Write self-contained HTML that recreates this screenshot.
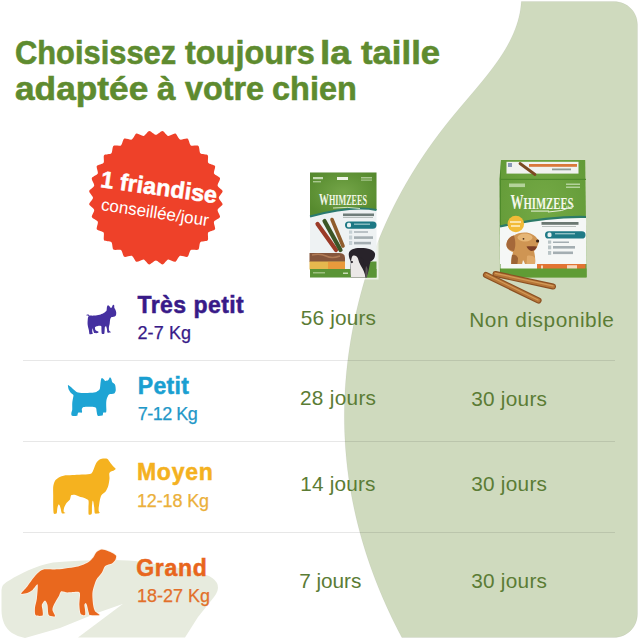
<!DOCTYPE html>
<html><head><meta charset="utf-8">
<style>
*{margin:0;padding:0;box-sizing:border-box}
html,body{width:640px;height:640px;overflow:hidden;background:#fff}
body{position:relative;font-family:"Liberation Sans",sans-serif}
.abs{position:absolute}
.t{position:absolute;white-space:nowrap;line-height:1}
.b{font-weight:700;-webkit-text-stroke:0.6px currentColor}
.tt{font-size:34.5px;font-weight:700;-webkit-text-stroke:0.6px currentColor;color:#5e8b2f;transform-origin:0 29px}
svg{position:absolute;overflow:visible}
</style></head><body>
<svg class="abs" style="left:0;top:0" width="640" height="640" viewBox="0 0 640 640">
 <path d="M521.30,1.50 C521.16,2.83 520.87,6.83 520.46,9.50 C520.05,12.17 519.51,14.83 518.85,17.50 C518.19,20.17 517.40,22.83 516.49,25.50 C515.59,28.17 514.56,30.83 513.42,33.50 C512.28,36.17 511.01,38.83 509.64,41.50 C508.28,44.17 506.79,46.83 505.20,49.50 C503.62,52.17 501.91,54.83 500.12,57.50 C498.34,60.17 496.45,62.83 494.50,65.50 C492.55,68.17 490.51,70.83 488.43,73.50 C486.35,76.17 484.20,78.83 482.02,81.50 C479.85,84.17 477.62,86.83 475.38,89.50 C473.15,92.17 470.87,94.83 468.61,97.50 C466.35,100.17 464.07,102.83 461.82,105.50 C459.56,108.17 457.31,110.83 455.10,113.50 C452.89,116.17 450.70,118.83 448.56,121.50 C446.43,124.17 444.33,126.83 442.28,129.50 C440.22,132.17 438.21,134.83 436.24,137.50 C434.26,140.17 432.33,142.83 430.44,145.50 C428.55,148.17 426.69,150.83 424.88,153.50 C423.07,156.17 421.29,158.83 419.55,161.50 C417.82,164.17 416.12,166.83 414.46,169.50 C412.79,172.17 411.17,174.83 409.58,177.50 C407.99,180.17 406.44,182.83 404.92,185.50 C403.41,188.17 401.93,190.83 400.48,193.50 C399.03,196.17 397.62,198.83 396.24,201.50 C394.87,204.17 393.52,206.83 392.21,209.50 C390.90,212.17 389.62,214.83 388.37,217.50 C387.13,220.17 385.91,222.83 384.73,225.50 C383.55,228.17 382.40,230.83 381.28,233.50 C380.15,236.17 379.06,238.83 378.00,241.50 C376.94,244.17 375.91,246.83 374.91,249.50 C373.90,252.17 372.93,254.83 371.98,257.50 C371.04,260.17 370.12,262.83 369.23,265.50 C368.34,268.17 367.47,270.83 366.64,273.50 C365.80,276.17 364.99,278.83 364.20,281.50 C363.41,284.17 362.65,286.83 361.92,289.50 C361.18,292.17 360.47,294.83 359.78,297.50 C359.09,300.17 358.43,302.83 357.79,305.50 C357.15,308.17 356.53,310.83 355.93,313.50 C355.34,316.17 354.76,318.83 354.21,321.50 C353.66,324.17 353.13,326.83 352.63,329.50 C352.12,332.17 351.64,334.83 351.18,337.50 C350.72,340.17 350.28,342.83 349.87,345.50 C349.45,348.17 349.06,350.83 348.69,353.50 C348.32,356.17 347.98,358.83 347.66,361.50 C347.33,364.17 347.04,366.83 346.76,369.50 C346.48,372.17 346.23,374.83 346.00,377.50 C345.77,380.17 345.57,382.83 345.38,385.50 C345.20,388.17 345.04,390.83 344.91,393.50 C344.77,396.17 344.66,398.83 344.57,401.50 C344.49,404.17 344.42,406.83 344.38,409.50 C344.34,412.17 344.33,414.83 344.33,417.50 C344.34,420.17 344.37,422.83 344.43,425.50 C344.49,428.17 344.57,430.83 344.67,433.50 C344.77,436.17 344.90,438.83 345.06,441.50 C345.21,444.17 345.39,446.83 345.59,449.50 C345.79,452.17 346.01,454.83 346.27,457.50 C346.52,460.17 346.79,462.83 347.09,465.50 C347.39,468.17 347.71,470.83 348.06,473.50 C348.41,476.17 348.79,478.83 349.19,481.50 C349.59,484.17 350.01,486.83 350.46,489.50 C350.91,492.17 351.38,494.83 351.88,497.50 C352.38,500.17 352.90,502.83 353.45,505.50 C354.00,508.17 354.58,510.83 355.18,513.50 C355.78,516.17 356.40,518.83 357.06,521.50 C357.71,524.17 358.38,526.83 359.09,529.50 C359.79,532.17 360.52,534.83 361.27,537.50 C362.02,540.17 362.80,542.83 363.61,545.50 C364.41,548.17 365.24,550.83 366.10,553.50 C366.96,556.17 367.84,558.83 368.75,561.50 C369.66,564.17 370.59,566.83 371.55,569.50 C372.52,572.17 373.50,574.83 374.52,577.50 C375.53,580.17 376.57,582.83 377.64,585.50 C378.70,588.17 379.80,590.83 380.92,593.50 C382.04,596.17 383.18,598.83 384.36,601.50 C385.53,604.17 386.73,606.83 387.95,609.50 C389.18,612.17 390.43,614.83 391.71,617.50 C392.99,620.17 394.30,622.83 395.63,625.50 C396.97,628.17 398.69,631.50 399.72,633.50 C400.75,635.50 401.47,636.83 401.82,637.50 L614,637.5 C627,637.5 637.5,627 637.5,614 L637.5,24.5 C637.5,11.5 627,1.5 614,1.5 Z" fill="#cfdabe" stroke="rgba(0,0,0,0.04)" stroke-width="1"/>
 <path d="M1.5,590 L1.5,610 C1.5,620 5,628 12,633 Q18,637 25,638 L60,628 L97,613 L122.7,604 L78,637.5 L185,637.5 L198,617 L214,597 Q224,584 209,576 C190,568 165,566 135,561 C110,559 80,560 53,562.6 C35,566 20,574 10,580 Q1.5,584 1.5,590 Z" fill="#e7ebde"/>
 <rect x="23" y="360" width="592" height="1" fill="rgba(0,0,0,0.095)"/>
 <rect x="23" y="441" width="592" height="1" fill="rgba(0,0,0,0.095)"/>
 <rect x="23" y="532" width="592" height="1" fill="rgba(0,0,0,0.095)"/>
</svg>


<div class="t tt" style="left:14.71px;top:34.6px;transform:scaleX(0.8939) scaleY(0.96)">Choisissez</div>
<div class="t tt" style="left:185.00px;top:34.6px;transform:scaleX(0.9398) scaleY(0.96)">toujours</div>
<div class="t tt" style="left:320.36px;top:34.6px;transform:scaleX(1.0714) scaleY(0.96)">la</div>
<div class="t tt" style="left:361.25px;top:34.6px;transform:scaleX(1.0058) scaleY(0.96)">taille</div>
<div class="t tt" style="left:14.58px;top:70.9px;transform:scaleX(1.0225) scaleY(0.96)">adaptée</div>
<div class="t tt" style="left:157.00px;top:70.9px;transform:scaleX(0.9625) scaleY(0.96)">à</div>
<div class="t tt" style="left:185.00px;top:70.9px;transform:scaleX(0.9375) scaleY(0.96)">votre</div>
<div class="t tt" style="left:272.06px;top:70.9px;transform:scaleX(0.9409) scaleY(0.96)">chien</div>

<!-- badge -->
<svg style="left:0;top:0" width="640" height="640" viewBox="0 0 640 640">
 <path d="M162.5,131.0 C164.1,131.2 166.5,135.7 168.2,136.0 C169.8,136.3 173.8,133.1 175.3,133.6 C176.9,134.1 178.4,138.9 180.0,139.6 C181.5,140.2 186.1,137.9 187.5,138.6 C188.9,139.4 189.4,144.5 190.8,145.4 C192.3,146.3 197.2,144.9 198.4,145.9 C199.6,146.9 199.2,152.0 200.4,153.2 C201.6,154.4 206.7,154.0 207.7,155.2 C208.7,156.4 207.3,161.3 208.2,162.8 C209.1,164.2 214.2,164.7 215.0,166.1 C215.7,167.5 213.4,172.1 214.0,173.6 C214.7,175.2 219.5,176.7 220.0,178.3 C220.5,179.8 217.3,183.8 217.6,185.4 C217.9,187.1 222.4,189.5 222.6,191.1 C222.7,192.7 218.8,196.0 218.8,197.7 C218.8,199.4 222.7,202.7 222.6,204.3 C222.4,205.9 217.9,208.3 217.6,210.0 C217.3,211.6 220.5,215.6 220.0,217.1 C219.5,218.7 214.7,220.2 214.0,221.8 C213.4,223.3 215.7,227.9 215.0,229.3 C214.2,230.7 209.1,231.2 208.2,232.6 C207.3,234.1 208.7,239.0 207.7,240.2 C206.7,241.4 201.6,241.0 200.4,242.2 C199.2,243.4 199.6,248.5 198.4,249.5 C197.2,250.5 192.3,249.1 190.8,250.0 C189.4,250.9 188.9,256.0 187.5,256.8 C186.1,257.5 181.5,255.2 180.0,255.8 C178.4,256.5 176.9,261.3 175.3,261.8 C173.8,262.3 169.8,259.1 168.2,259.4 C166.5,259.7 164.1,264.2 162.5,264.4 C160.9,264.5 157.6,260.6 155.9,260.6 C154.2,260.6 150.9,264.5 149.3,264.4 C147.7,264.2 145.3,259.7 143.6,259.4 C142.0,259.1 138.0,262.3 136.5,261.8 C134.9,261.3 133.4,256.5 131.8,255.8 C130.3,255.2 125.7,257.5 124.3,256.8 C122.9,256.0 122.4,250.9 121.0,250.0 C119.5,249.1 114.6,250.5 113.4,249.5 C112.2,248.5 112.6,243.4 111.4,242.2 C110.2,241.0 105.1,241.4 104.1,240.2 C103.1,239.0 104.5,234.1 103.6,232.6 C102.7,231.2 97.6,230.7 96.8,229.3 C96.1,227.9 98.4,223.3 97.8,221.8 C97.1,220.2 92.3,218.7 91.8,217.1 C91.3,215.6 94.5,211.6 94.2,210.0 C93.9,208.3 89.4,205.9 89.2,204.3 C89.1,202.7 93.0,199.4 93.0,197.7 C93.0,196.0 89.1,192.7 89.2,191.1 C89.4,189.5 93.9,187.1 94.2,185.4 C94.5,183.8 91.3,179.8 91.8,178.3 C92.3,176.7 97.1,175.2 97.8,173.6 C98.4,172.1 96.1,167.5 96.8,166.1 C97.6,164.7 102.7,164.2 103.6,162.8 C104.5,161.3 103.1,156.4 104.1,155.2 C105.1,154.0 110.2,154.4 111.4,153.2 C112.6,152.0 112.2,146.9 113.4,145.9 C114.6,144.9 119.5,146.3 121.0,145.4 C122.4,144.5 122.9,139.4 124.3,138.6 C125.7,137.9 130.3,140.2 131.8,139.6 C133.4,138.9 134.9,134.1 136.5,133.6 C138.0,133.1 142.0,136.3 143.6,136.0 C145.3,135.7 147.7,131.2 149.3,131.0 C150.9,130.9 154.2,134.8 155.9,134.8 C157.6,134.8 160.9,130.9 162.5,131.0Z" fill="#ee4129"/>
</svg>
<div class="t" style="left:98.5px;top:168px;font-size:23.5px;font-weight:700;-webkit-text-stroke:0.5px currentColor;color:#fff;transform:rotate(8deg);transform-origin:0 100%">1 friandise</div>
<div class="t" style="left:100px;top:195.5px;font-size:17px;color:#fff;transform:rotate(8.5deg);transform-origin:0 100%">conseillée/jour</div>

<!-- row labels -->
<div class="t" style="left:137.50px;top:293.53px;font-size:23px;font-weight:700;-webkit-text-stroke:0.5px currentColor;color:#381a88;letter-spacing:0.444px">Très petit</div>
<div class="t" style="left:137.40px;top:323.66px;font-size:18px;-webkit-text-stroke:0.25px currentColor;color:#381a88;letter-spacing:0.120px">2-7 Kg</div>
<div class="t" style="left:137.80px;top:375.03px;font-size:23px;font-weight:700;-webkit-text-stroke:0.5px currentColor;color:#1a9fd1;letter-spacing:0.300px">Petit</div>
<div class="t" style="left:137.80px;top:405.06px;font-size:18px;-webkit-text-stroke:0.25px currentColor;color:#1f98c8;letter-spacing:-0.500px">7-12 Kg</div>
<div class="t" style="left:136.90px;top:461.03px;font-size:23px;font-weight:700;-webkit-text-stroke:0.5px currentColor;color:#f4b120;letter-spacing:0.775px">Moyen</div>
<div class="t" style="left:137.00px;top:491.51px;font-size:18px;-webkit-text-stroke:0.25px currentColor;color:#ebb03a;letter-spacing:-0.143px">12-18 Kg</div>
<div class="t" style="left:136.20px;top:556.53px;font-size:23px;font-weight:700;-webkit-text-stroke:0.5px currentColor;color:#e8661d;letter-spacing:0.700px">Grand</div>
<div class="t" style="left:137.00px;top:587.26px;font-size:18px;-webkit-text-stroke:0.25px currentColor;color:#e2702a;letter-spacing:0.000px">18-27 Kg</div>
<div class="t" style="left:300.70px;top:307.69px;font-size:20.8px;color:#5b7c35;letter-spacing:0.186px">56 jours</div>
<div class="t" style="left:469.25px;top:310.49px;font-size:20.8px;color:#5b7c35;letter-spacing:0.542px">Non disponible</div>
<div class="t" style="left:300.00px;top:388.19px;font-size:20.8px;color:#5b7c35;letter-spacing:0.286px">28 jours</div>
<div class="t" style="left:471.20px;top:388.64px;font-size:20.8px;color:#5b7c35;letter-spacing:0.257px">30 jours</div>
<div class="t" style="left:300.25px;top:474.29px;font-size:20.8px;color:#5b7c35;letter-spacing:0.164px">14 jours</div>
<div class="t" style="left:471.20px;top:474.29px;font-size:20.8px;color:#5b7c35;letter-spacing:0.257px">30 jours</div>
<div class="t" style="left:299.20px;top:570.79px;font-size:20.8px;color:#5b7c35;letter-spacing:-0.033px">7 jours</div>
<div class="t" style="left:471.20px;top:570.79px;font-size:20.8px;color:#5b7c35;letter-spacing:0.257px">30 jours</div>

<!-- dogs -->
<svg style="left:80px;top:296px" width="44" height="44" viewBox="0 0 640 640">
<path fill="#4530a0" d="M95.0,272.0 C98.6,270.0 119.6,266.4 125.0,268.0 C130.4,269.6 127.4,283.0 140.0,285.0 C152.6,287.0 210.8,286.8 230.0,285.0 C249.2,283.2 285.6,274.8 300.0,270.0 C314.4,265.2 339.8,251.6 350.0,245.0 C360.2,238.4 380.0,225.2 385.0,215.0 C390.0,204.8 389.6,169.6 392.0,160.0 C394.4,150.4 401.0,136.8 405.0,135.0 C409.0,133.2 420.2,140.8 425.0,145.0 C429.8,149.2 440.6,167.2 445.0,170.0 C449.4,172.8 458.0,172.8 462.0,168.0 C466.0,163.2 473.8,134.0 478.0,130.0 C482.2,126.0 494.4,129.6 497.0,135.0 C499.6,140.4 497.8,167.2 500.0,175.0 C502.2,182.8 511.8,192.2 515.0,200.0 C518.2,207.8 526.2,229.8 527.0,240.0 C527.8,250.2 525.8,277.6 522.0,285.0 C518.2,292.4 503.0,299.0 495.0,302.0 C487.0,305.0 461.8,304.8 455.0,310.0 C448.2,315.2 440.8,334.2 438.0,345.0 C435.2,355.8 434.2,386.2 432.0,400.0 C429.8,413.8 420.8,447.4 420.0,460.0 C419.2,472.6 421.6,497.6 425.0,505.0 C428.4,512.4 446.4,518.8 448.0,522.0 C449.6,525.2 443.8,530.8 438.0,532.0 C432.2,533.2 405.5,538.2 400.0,532.0 C394.5,525.8 394.4,491.0 392.0,480.0 C389.6,469.0 383.6,443.6 380.0,440.0 C376.4,436.4 364.6,441.6 362.0,450.0 C359.4,458.4 359.2,498.0 358.0,510.0 C356.8,522.0 356.8,545.4 352.0,550.0 C347.2,554.6 322.8,555.2 318.0,548.0 C313.2,540.8 313.0,503.0 312.0,490.0 C311.0,477.0 313.8,447.0 310.0,440.0 C306.2,433.0 288.4,432.0 280.0,432.0 C271.6,432.0 247.4,437.2 240.0,440.0 C232.6,442.8 219.8,448.4 218.0,455.0 C216.2,461.6 219.4,487.4 225.0,495.0 C230.6,502.6 259.8,513.8 265.0,518.0 C270.2,522.2 271.0,527.4 268.0,530.0 C265.0,532.6 247.6,539.4 240.0,540.0 C232.4,540.6 211.0,541.0 205.0,535.0 C199.0,529.0 192.8,497.8 190.0,490.0 C187.2,482.2 183.4,466.4 182.0,470.0 C180.6,473.6 177.6,510.4 178.0,520.0 C178.4,529.6 189.6,545.8 185.0,550.0 C180.4,554.2 146.6,561.0 140.0,555.0 C133.4,549.0 132.6,512.0 130.0,500.0 C127.4,488.0 120.4,467.0 118.0,455.0 C115.6,443.0 110.4,416.2 110.0,400.0 C109.6,383.8 113.2,333.0 115.0,320.0 C116.8,307.0 127.4,296.2 125.0,292.0 C122.6,287.8 98.6,287.4 95.0,285.0 C91.4,282.6 91.4,274.0 95.0,272.0Z"/>
</svg>
<svg style="left:64px;top:372px" width="60" height="48" viewBox="0 0 640 512">
<path fill="#1ea4d4" d="M42.0,140.0 C44.2,136.2 62.4,152.0 70.0,158.0 C77.6,164.0 96.6,183.2 105.0,190.0 C113.4,196.8 128.6,210.8 140.0,215.0 C151.4,219.2 182.0,224.2 200.0,225.0 C218.0,225.8 272.6,223.6 290.0,222.0 C307.4,220.4 334.2,216.4 345.0,212.0 C355.8,207.6 374.8,194.8 380.0,185.0 C385.2,175.2 386.2,142.6 388.0,130.0 C389.8,117.4 393.0,87.8 395.0,80.0 C397.0,72.2 401.4,65.0 405.0,65.0 C408.6,65.0 420.8,76.4 425.0,80.0 C429.2,83.6 434.6,94.0 440.0,95.0 C445.4,96.0 464.0,92.8 470.0,88.0 C476.0,83.2 485.8,56.6 490.0,55.0 C494.2,53.4 502.0,68.4 505.0,75.0 C508.0,81.6 510.2,102.8 515.0,110.0 C519.8,117.2 540.6,124.8 545.0,135.0 C549.4,145.2 553.2,183.6 552.0,195.0 C550.8,206.4 543.6,224.6 535.0,230.0 C526.4,235.4 489.6,232.8 480.0,240.0 C470.4,247.2 458.6,278.0 455.0,290.0 C451.4,302.0 450.4,326.8 450.0,340.0 C449.6,353.2 452.2,389.0 452.0,400.0 C451.8,411.0 451.8,428.2 448.0,432.0 C444.2,435.8 424.0,429.8 420.0,432.0 C416.0,434.2 416.2,446.2 415.0,450.0 C413.8,453.8 416.6,462.1 410.0,464.0 C403.4,465.9 367.4,471.3 360.0,466.0 C352.6,460.7 350.4,430.3 348.0,420.0 C345.6,409.7 347.0,386.0 340.0,380.0 C333.0,374.0 305.6,371.0 290.0,370.0 C274.4,369.0 222.0,369.0 210.0,372.0 C198.0,375.0 192.2,387.8 190.0,395.0 C187.8,402.2 196.2,427.6 192.0,432.0 C187.8,436.4 160.6,429.8 155.0,432.0 C149.4,434.2 146.8,445.8 145.0,450.0 C143.2,454.2 147.2,465.0 140.0,467.0 C132.8,469.0 92.4,470.2 85.0,467.0 C77.6,463.8 77.6,448.0 78.0,440.0 C78.4,432.0 86.8,413.2 88.0,400.0 C89.2,386.8 86.8,345.6 88.0,330.0 C89.2,314.4 96.6,280.2 98.0,270.0 C99.4,259.8 102.8,250.4 100.0,245.0 C97.2,239.6 80.8,231.6 75.0,225.0 C69.2,218.4 56.0,200.2 52.0,190.0 C48.0,179.8 39.8,143.8 42.0,140.0Z"/>
</svg>
<svg style="left:48px;top:452px" width="74" height="68" viewBox="0 0 640 588">
<path fill="#f5b21f" d="M585.0,145.0 C585.6,149.2 574.8,157.2 570.0,160.0 C565.2,162.8 549.8,165.0 545.0,168.0 C540.2,171.0 531.6,177.6 530.0,185.0 C528.4,192.4 533.0,217.4 532.0,230.0 C531.0,242.6 525.8,276.8 522.0,290.0 C518.2,303.2 507.2,329.8 500.0,340.0 C492.8,350.2 468.2,365.4 462.0,375.0 C455.8,384.6 450.9,406.2 448.0,420.0 C445.1,433.8 439.0,478.6 438.0,490.0 C437.0,501.4 438.8,510.8 440.0,515.0 C441.2,519.2 449.2,523.0 448.0,525.0 C446.8,527.0 435.2,531.4 430.0,532.0 C424.8,532.6 408.6,536.2 405.0,530.0 C401.4,523.8 401.6,492.0 400.0,480.0 C398.4,468.0 393.8,436.6 392.0,430.0 C390.2,423.4 386.4,419.0 385.0,425.0 C383.6,431.0 380.8,466.8 380.0,480.0 C379.2,493.2 381.4,527.8 378.0,535.0 C374.6,542.2 355.4,546.6 352.0,540.0 C348.6,533.4 350.2,494.4 350.0,480.0 C349.8,465.6 353.6,429.6 350.0,420.0 C346.4,410.4 329.6,404.2 320.0,400.0 C310.4,395.8 280.8,388.6 270.0,385.0 C259.2,381.4 238.4,371.2 230.0,370.0 C221.6,368.8 204.8,370.2 200.0,375.0 C195.2,379.8 194.8,402.2 190.0,410.0 C185.2,417.8 166.0,431.6 160.0,440.0 C154.0,448.4 143.0,471.0 140.0,480.0 C137.0,489.0 133.8,509.2 135.0,515.0 C136.2,520.8 151.8,526.2 150.0,528.0 C148.2,529.8 124.8,534.6 120.0,530.0 C115.2,525.4 112.4,498.4 110.0,490.0 C107.6,481.6 102.4,464.2 100.0,460.0 C97.6,455.8 92.4,451.4 90.0,455.0 C87.6,458.6 81.8,481.0 80.0,490.0 C78.2,499.0 78.6,525.0 75.0,530.0 C71.4,535.0 53.6,539.2 50.0,532.0 C46.4,524.8 45.6,488.2 45.0,470.0 C44.4,451.8 45.0,400.4 45.0,380.0 C45.0,359.6 43.2,315.6 45.0,300.0 C46.8,284.4 54.6,259.4 60.0,250.0 C65.4,240.6 79.2,227.8 90.0,222.0 C100.8,216.2 133.2,204.9 150.0,202.0 C166.8,199.1 210.8,198.8 230.0,198.0 C249.2,197.2 292.6,196.6 310.0,195.0 C327.4,193.4 364.8,190.4 375.0,185.0 C385.2,179.6 390.2,160.2 395.0,150.0 C399.8,139.8 409.6,109.6 415.0,100.0 C420.4,90.4 432.8,75.2 440.0,70.0 C447.2,64.8 466.0,58.2 475.0,57.0 C484.0,55.8 507.2,55.4 515.0,60.0 C522.8,64.6 534.0,87.2 540.0,95.0 C546.0,102.8 559.6,119.0 565.0,125.0 C570.4,131.0 584.4,140.8 585.0,145.0Z"/>
</svg>
<svg style="left:14px;top:544px" width="108" height="80" viewBox="0 0 640 474">
<path fill="#e9681e" stroke="#fbf1e6" stroke-width="10" stroke-linejoin="round" paint-order="stroke" d="M42.0,294.0 C41.8,298.8 69.8,292.6 78.0,290.0 C86.2,287.4 102.6,278.0 110.0,272.0 C117.4,266.0 136.9,233.8 140.0,240.0 C143.1,246.2 137.4,307.7 135.5,324.0 C133.6,340.3 125.3,364.4 124.4,376.0 C123.5,387.6 122.6,415.2 128.0,421.0 C133.4,426.8 164.1,427.6 169.0,424.0 C173.9,420.4 169.5,398.5 169.0,391.0 C168.5,383.5 163.2,368.2 165.0,361.5 C166.8,354.8 179.7,335.5 183.7,335.5 C187.7,335.5 195.8,351.2 198.5,361.5 C201.2,371.8 200.7,413.0 206.0,421.0 C211.3,429.0 240.4,431.6 243.0,428.0 C245.6,424.4 228.9,399.0 228.0,391.0 C227.1,383.0 231.1,371.2 235.5,361.5 C239.9,351.8 259.7,319.8 265.0,310.0 C270.3,300.2 273.8,282.8 280.0,280.0 C286.2,277.2 304.5,286.5 317.0,287.0 C329.5,287.5 375.1,282.2 384.0,284.0 C392.9,285.8 390.6,292.7 391.0,302.0 C391.4,311.3 386.9,348.2 387.4,361.5 C387.9,374.8 391.0,405.9 395.0,413.0 C399.0,420.1 417.9,423.6 421.0,421.0 C424.1,418.4 421.5,398.1 421.0,391.0 C420.5,383.9 416.6,366.4 417.0,361.5 C417.4,356.6 422.6,350.0 424.4,350.0 C426.2,350.0 429.8,354.8 432.0,361.5 C434.2,368.2 440.8,398.9 443.0,406.0 C445.2,413.1 442.4,419.2 450.0,421.0 C457.6,422.8 502.4,423.7 506.0,421.0 C509.6,418.3 484.4,405.6 480.0,398.5 C475.6,391.4 470.8,374.9 469.0,361.5 C467.2,348.1 462.8,304.8 465.0,287.0 C467.2,269.2 480.4,227.0 487.0,213.0 C493.6,199.0 513.6,180.0 520.0,170.0 C526.4,160.0 532.8,136.6 540.0,130.0 C547.2,123.4 572.8,119.2 580.0,115.0 C587.2,110.8 597.0,100.4 600.0,95.0 C603.0,89.6 606.8,74.8 605.0,70.0 C603.2,65.2 591.0,58.4 585.0,55.0 C579.0,51.6 562.8,44.6 555.0,42.0 C547.2,39.4 527.8,32.3 520.0,33.0 C512.2,33.7 496.0,42.4 490.0,48.0 C484.0,53.6 476.0,72.8 470.0,80.0 C464.0,87.2 450.8,101.6 440.0,108.0 C429.2,114.4 401.6,128.0 380.0,133.0 C358.4,138.0 284.0,148.0 260.0,150.0 C236.0,152.0 193.2,148.2 180.0,150.0 C166.8,151.8 157.2,159.5 150.0,165.0 C142.8,170.5 128.4,185.8 120.0,196.0 C111.6,206.2 89.4,238.2 80.0,250.0 C70.6,261.8 42.2,289.2 42.0,294.0Z"/>
</svg>

<!-- products -->
<svg style="left:0;top:0" width="640" height="640" viewBox="0 0 640 640">
 <defs>
  <radialGradient id="pg" cx="0.5" cy="0.45" r="0.6">
   <stop offset="0" stop-color="#74a548"/><stop offset="1" stop-color="#568a2e"/>
  </radialGradient>
  <radialGradient id="bg2" cx="0.5" cy="0.4" r="0.65">
   <stop offset="0" stop-color="#74a945"/><stop offset="1" stop-color="#629a37"/>
  </radialGradient>
  <linearGradient id="gold" x1="0" y1="0" x2="1" y2="1">
   <stop offset="0" stop-color="#d79a55"/><stop offset="1" stop-color="#a8692f"/>
  </linearGradient>
 </defs>
 <!-- POUCH -->
 <rect x="308" y="170.5" width="70.5" height="109" fill="#ffffff" opacity="0.6"/>
 <rect x="310" y="172.5" width="66.5" height="105" fill="#eef2f3"/>
 <path d="M310,172.5 H376.5 V210 C362,207 338,209 310,216.5 Z" fill="url(#pg)"/>
 <path d="M310,216.5 C338,209 362,207 376.5,210" fill="none" stroke="#2a7a70" stroke-width="2"/>
 <text x="319" y="205" font-family="Liberation Serif" font-weight="700" fill="#f2f6e6" textLength="48" lengthAdjust="spacingAndGlyphs"><tspan font-size="17">W</tspan><tspan font-size="14">HIMZEES</tspan></text>
 <path d="M333,208 Q348,206.5 360,208.5" fill="none" stroke="#dfe9cf" stroke-width="0.9"/>
 <rect x="313" y="177" width="10" height="2.2" fill="#c6dcb4"/>
 <rect x="337" y="177" width="11" height="3" fill="#eef4e6"/>
 <rect x="361" y="177" width="11" height="1.5" fill="#a9c88f"/>
 <rect x="361" y="179.5" width="11" height="1.2" fill="#a9c88f"/>
 <rect x="313" y="181" width="8" height="1.4" fill="#a9c88f"/>
 <rect x="343" y="213.5" width="31" height="2.6" fill="#6f7d7a"/>
 <rect x="343" y="217" width="30" height="1" fill="#b5bdbb"/>
 <rect x="345" y="221.5" width="31.5" height="7.2" rx="3.6" fill="#1d7884"/>
 <rect x="347" y="222.8" width="4" height="4.5" rx="1.5" fill="#e8f2f2"/>
 <rect x="354" y="223.5" width="16" height="1.4" fill="#8fc0c4"/>
 <rect x="349" y="230.5" width="3.2" height="3.2" fill="#c5d0d4"/><rect x="354" y="231.3" width="14" height="1.4" fill="#a4aeb2"/>
 <rect x="349" y="235.5" width="3.2" height="4" fill="#c5d0d4"/><rect x="354" y="236.3" width="19" height="2.6" fill="#a4aeb2"/>
 <rect x="349" y="241" width="3.2" height="4" fill="#c5d0d4"/><rect x="354" y="241.8" width="17" height="2.6" fill="#a4aeb2"/>
 <line x1="317.5" y1="224" x2="336" y2="250" stroke="#9b3a27" stroke-width="4.2" stroke-linecap="round"/>
 <line x1="324.5" y1="221" x2="340.5" y2="250" stroke="#3c5526" stroke-width="4.2" stroke-linecap="round"/>
 <line x1="332" y1="219.5" x2="343" y2="246" stroke="#8f5c2c" stroke-width="3.6" stroke-linecap="round"/>
 <path d="M309.5,253 H339 Q345,253 345,258 V262 H309.5 Z" fill="#85563c"/>
 <path d="M312,255 Q320,253 326,256 Q332,259 340,256" fill="none" stroke="#b07a55" stroke-width="1.5"/>
 <rect x="309.5" y="261.5" width="35.5" height="8" fill="#e6b84e"/>
 <rect x="328" y="262" width="17" height="7" fill="#e99a3c"/>
 <rect x="310" y="269" width="66.5" height="8.5" fill="#5a9436"/>
 <rect x="366" y="261.5" width="10.5" height="16" fill="#5a9436"/>
 <rect x="313" y="272" width="12" height="1.5" fill="#9cc07e"/>
 <rect x="343" y="272.5" width="5" height="1.5" fill="#c9dcb6"/>
 <!-- pouch dog -->
 <path d="M348.8,253.5 C349.5,249 355,247.8 361,248 C368,248 373.5,249.5 375,253.5 C375.5,257.5 373.5,260.5 370.5,261.5 C369.5,265 369,269 368,273 L366,277.5 H351 C350,272 350.5,266 351,262 C349.5,259 348.5,256 348.8,253.5 Z" fill="#28232a"/>
 <path d="M352.5,256 C354.5,255 357,256 358,258.5 C358.5,261 359.5,263.5 361,266 C363,269 365,273 365.5,277.5 H351 C350.3,272.5 350.5,267 351.2,263 C351,260 351.5,257.5 352.5,256 Z" fill="#ebe8e7"/>
 <path d="M358.5,258 C360.5,257 363,258 364,260.5 C364,263 363,265 361.5,265.5 C360,263 359,260.5 358.5,258 Z" fill="#28232a"/>
 <ellipse cx="351.8" cy="262" rx="1.3" ry="1.1" fill="#28232a"/>
 <path d="M366,266 C368,268 368,271 367,277.5 H365.5 C365,273 365.5,269 366,266 Z" fill="#5a5256"/>
 <!-- BOX -->
 <path d="M501,160 H585.2 L586.7,277.3 H500 Z" fill="url(#bg2)"/>
 <path d="M499.5,179 L501,160 V277.3 H500 Z" fill="#4e8a2a"/>
 <rect x="506.5" y="161.8" width="72" height="11.8" fill="#f1f2f0"/>
 <rect x="529" y="164" width="48" height="2.8" fill="#d9783a"/>
 <rect x="552" y="168.5" width="19" height="1.8" fill="#8c9a94"/>
 <rect x="508" y="163" width="4" height="4" fill="#8a98b8"/>
 <line x1="520" y1="163.5" x2="535" y2="174.5" stroke="#7b4a22" stroke-width="2.8" stroke-linecap="round"/>
 <rect x="501" y="178.8" width="85" height="1.2" fill="#4f8b2c"/>
 <rect x="509" y="183.5" width="16" height="3.6" fill="#bcd8a4" opacity="0.9"/>
 <rect x="566" y="183.5" width="14" height="1.5" fill="#b3d29b"/>
 <rect x="566" y="186.5" width="14" height="1.5" fill="#b3d29b"/>
 <text x="510.5" y="209" font-family="Liberation Serif" font-weight="700" fill="#f4f8ec" textLength="63" lengthAdjust="spacingAndGlyphs"><tspan font-size="20">W</tspan><tspan font-size="16.5">HIMZEES</tspan></text>
 <rect x="531" y="210.5" width="18" height="1.2" fill="#d6e6c4"/>
 <path d="M548,212 Q562,212 574,206" fill="none" stroke="#e6efd9" stroke-width="1"/>
 <path d="M500,226.5 C530,220 560,216.5 586,217 L586.5,264 H500 Z" fill="#f5f7f6"/>
 <path d="M500,226.5 C530,220 560,216.5 586,217" fill="none" stroke="#2c7b68" stroke-width="2.2"/>
 <circle cx="515.8" cy="224" r="8.3" fill="#f2bb37"/>
 <rect x="510" y="221" width="11" height="2" fill="#fbe3a6"/>
 <rect x="511" y="225" width="9" height="2" fill="#fbe3a6"/>
 <rect x="541.5" y="222" width="37" height="2.8" fill="#6b7872"/>
 <rect x="542" y="226" width="34" height="1" fill="#b8bfbc"/>
 <rect x="545" y="231.3" width="40.5" height="7.2" rx="3.6" fill="#1f7a86"/>
 <rect x="547.5" y="232.5" width="4" height="4.5" rx="1.5" fill="#e8f2f2"/>
 <rect x="555" y="233" width="20" height="1.4" fill="#8fc0c4"/>
 <rect x="548" y="240.5" width="3.2" height="3.2" fill="#b9c4c6"/><rect x="553" y="241.5" width="16" height="1.5" fill="#a4aeb2"/>
 <rect x="548" y="245.5" width="3.2" height="3.8" fill="#b9c4c6"/><rect x="553" y="246" width="22" height="2.6" fill="#a4aeb2"/>
 <rect x="548" y="251" width="3.2" height="3.8" fill="#b9c4c6"/><rect x="553" y="251.5" width="20" height="2.6" fill="#a4aeb2"/>
 <!-- golden dog -->
 <path d="M511,268 C511,262 512,257 513,252 C509,251 506,248 506.5,244 C507,239.5 510,236.5 514,235.5 C517,233 522,232 527,232.5 C532,233.5 535.5,236 537.5,239 C539,240 539.5,241.5 538.5,243 C537.5,246 536.5,249 534,251 C535,255 535.5,260 535,264 L534,268 Z" fill="#cf9553"/>
 <path d="M506.5,244 C507,239.5 510,236.5 514,235.5 C515.5,240 516,246 514,251 C510,251 506,248 506.5,244 Z" fill="#a5683a"/>
 <ellipse cx="525" cy="237.5" rx="7.5" ry="4" fill="#e6b676"/>
 <circle cx="537.6" cy="241" r="1.6" fill="#3a2418"/>
 <circle cx="523.5" cy="238.8" r="0.9" fill="#4a2e1c"/>
 <path d="M526.5,246.5 C530,246 534,246.5 537,246.5 C536,249.5 534,251 531,251 C529,250.5 527.5,248.5 526.5,246.5 Z" fill="#7d3f26"/>
 <path d="M512,255 C514,254 517,255 518,258 C518,262 517,266 516,268 H511.5 C511,263 511.2,258 512,255 Z" fill="#9c6334"/>
 <path d="M527,256 C529,255 533,255.5 535,258 C535.5,262 535,266 534,268 H526 C526.5,264 527,260 527,256 Z" fill="#e0aa6a"/>
 <path d="M523,260 C524.5,262 525.5,265 526,268 H521 C522,265 522.5,262 523,260 Z" fill="#f5f7f6"/>
 <rect x="537" y="264" width="48.5" height="6.7" fill="#e27433"/>
 <rect x="541" y="265.5" width="2" height="3.5" fill="#f7d7bd"/>
 <rect x="567" y="265.2" width="10" height="3.8" fill="#f7d7bd"/>
 <rect x="500.5" y="268.5" width="86" height="9" fill="#5f9c35"/>
 <rect x="500.5" y="264" width="36.5" height="4.5" fill="#f5f7f6"/>
 <!-- sticks -->
 <g stroke-linecap="round">
  <line x1="486" y1="275" x2="538.5" y2="300.5" stroke="#8b5022" stroke-width="6.2"/>
  <line x1="486" y1="275" x2="538.5" y2="300.5" stroke="#b77638" stroke-width="3.8"/>
  <line x1="486.5" y1="274.5" x2="538" y2="300" stroke="#d39a58" stroke-width="1.2"/>
  <line x1="495.5" y1="274" x2="553" y2="286.5" stroke="#8b5022" stroke-width="6"/>
  <line x1="495.5" y1="274" x2="553" y2="286.5" stroke="#b77638" stroke-width="3.8"/>
  <line x1="495.5" y1="273.3" x2="553" y2="285.8" stroke="#d39a58" stroke-width="1.2"/>
 </g>
</svg>
</body></html>
